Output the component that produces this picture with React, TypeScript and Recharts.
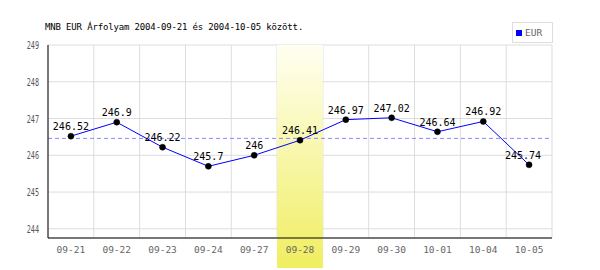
import { LineChart, Line, XAxis, YAxis, CartesianGrid, ReferenceArea, ReferenceLine, LabelList } from 'recharts';

// Napok (tengely címkék)
const days = ['09-21', '09-22', '09-23', '09-24', '09-27', '09-28', '09-29', '09-30', '10-01', '10-04', '10-05'];
// EUR árfolyam értékek
const eur = [246.52, 246.9, 246.22, 245.7, 246, 246.41, 246.97, 247.02, 246.64, 246.92, 245.74];
const yTicks = [244, 245, 246, 247, 248, 249];
const average = 246.46;
const highlightDay = '09-28';

const data = days.map((d, i) => ({ day: d, eur: eur[i] }));

const MONO = '"DejaVu Sans Mono", monospace';

// Y tengely címke - keskeny betű (vízszintesen összenyomva)
const YTick = (props: any) => {
  const { x, y, payload } = props;
  return (
    <g transform={`translate(${x - 1},${y + 4}) scale(0.62,1)`}>
      <text x={0} y={0} textAnchor="end" fontFamily={MONO} fontSize={11} fill="#555">{payload.value}</text>
    </g>
  );
};

const XTick = (props: any) => {
  const { x, y, payload } = props;
  return (
    <text x={x} y={y + 7} textAnchor="middle" fontFamily={MONO} fontSize={9.5} fill="#666">{payload.value}</text>
  );
};

// Kiemelt nap sávja, a tengely alá is lenyúlik
const Highlight = (props: any) => {
  const { x, y, width, height } = props;
  return <rect x={x} y={y} width={width} height={height + 30} fill="url(#hl)" />;
};

const PointLabel = (props: any) => {
  const { x, y, value, index } = props;
  const dx = index === eur.length - 1 ? -6 : 0;
  return (
    <text x={x + dx} y={y - 6} textAnchor="middle" fontFamily={MONO} fontSize={10} fill="#000">{value}</text>
  );
};

// függőleges rácsvonalak a sávhatárokon
const bandLines = ({ offset }: any) =>
  Array.from({ length: days.length + 1 }, (_, i) => offset.left + (i * offset.width) / days.length);

export default function App() {
  return (
    <div style={{ position: 'absolute', left: 0, top: 0, width: 600, height: 270, background: '#fff' }}>
      <div style={{ position: 'absolute', left: 45, top: 22, fontFamily: MONO, fontSize: 9, letterSpacing: -0.15, color: '#000', whiteSpace: 'nowrap', lineHeight: '10px' }}>
        MNB EUR Árfolyam 2004-09-21 és 2004-10-05 között.
      </div>
      <div style={{ position: 'absolute', left: 512, top: 22, width: 39, height: 19, border: '1px solid #ddd', background: '#fff', boxSizing: 'content-box' }}>
        <div style={{ position: 'absolute', left: 3, top: 7, width: 6, height: 6, background: '#0000ff' }} />
        <div style={{ position: 'absolute', left: 12, top: 4, fontFamily: MONO, fontSize: 9.5, color: '#666' }}>EUR</div>
      </div>
      <LineChart width={600} height={270} data={data} margin={{ top: 45, right: 48, bottom: 12, left: 0 }}>
        <defs>
          <linearGradient id="hl" x1="0" y1="0" x2="0" y2="1">
            <stop offset="0%" stopColor="#fffff2" />
            <stop offset="100%" stopColor="#f0ee60" />
          </linearGradient>
        </defs>
        <CartesianGrid stroke="#ddd" strokeWidth={1} verticalCoordinatesGenerator={bandLines} />
        <ReferenceArea x1={highlightDay} x2={highlightDay} ifOverflow="visible" shape={Highlight} />
        <XAxis dataKey="day" scale="band" interval={0} height={20} stroke="#000" tickLine={false} tick={XTick} />
        <YAxis domain={[243.75, 249]} ticks={yTicks} width={48} stroke="#000" tickLine={false} tick={YTick} allowDataOverflow />
        <ReferenceLine y={average} stroke="#8888ff" strokeDasharray="4 3" />
        <Line dataKey="eur" stroke="#0000ff" strokeWidth={1} isAnimationActive={false}
          dot={{ r: 3, fill: '#000', stroke: '#000', strokeWidth: 0.5 }} activeDot={false}>
          <LabelList dataKey="eur" content={PointLabel} />
        </Line>
      </LineChart>
    </div>
  );
}
